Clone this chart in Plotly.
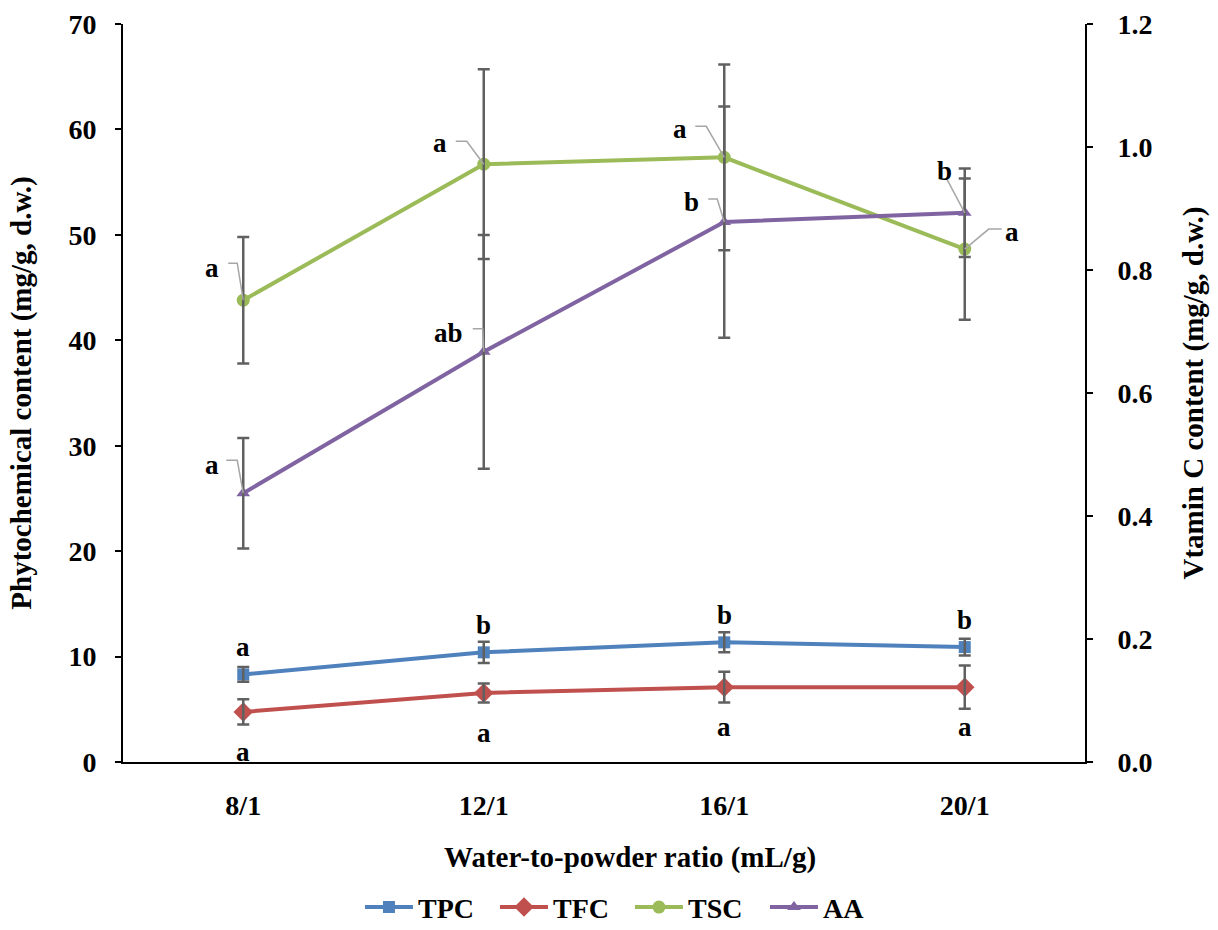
import plotly.graph_objects as go

categories = ["8/1", "12/1", "16/1", "20/1"]

tpc = [8.3, 10.4, 11.35, 10.9]
tpc_err = [0.7, 1.0, 0.95, 0.8]
tfc = [4.75, 6.55, 7.1, 7.1]
tfc_err = [1.2, 0.9, 1.45, 2.05]
tsc = [43.8, 56.7, 57.35, 48.65]
tsc_err = [6.0, 9.0, 8.8, 6.7]
aa = [0.437, 0.667, 0.878, 0.893]
aa_err = [0.09, 0.19, 0.188, 0.072]

tpc_letters = ["a", "b", "b", "b"]
tfc_letters = ["a", "a", "a", "a"]
tsc_letters = ["a", "a", "a", "a"]
aa_letters = ["a", "ab", "b", "b"]

FONT = "Liberation Serif"
C_TPC = "#4F81BD"
C_TFC = "#C0504D"
C_TSC = "#9BBB59"
C_AA = "#8064A2"
C_ERR = "#606060"
C_LEAD = "#A6A6A6"

idx = list(range(len(categories)))

fig = go.Figure()

series = [
    ("TPC", tpc, C_TPC, "square", 12, "y"),
    ("TFC", tfc, C_TFC, "diamond", 15, "y"),
    ("TSC", tsc, C_TSC, "circle", 13, "y"),
    ("AA", aa, C_AA, "triangle-up", 12, "y2"),
]
for name, vals, col, sym, sz, yax in series:
    fig.add_trace(go.Scatter(
        x=idx, y=vals, name=name, mode="lines+markers", yaxis=yax,
        line=dict(color=col, width=4),
        marker=dict(symbol=sym, size=sz, color=col),
    ))

# error bars drawn on top
for vals, errs, yax in [(tpc, tpc_err, "y"), (tfc, tfc_err, "y"), (tsc, tsc_err, "y"), (aa, aa_err, "y2")]:
    fig.add_trace(go.Scatter(
        x=idx, y=vals, mode="markers", yaxis=yax, showlegend=False, hoverinfo="skip",
        marker=dict(size=1, opacity=0),
        error_y=dict(type="data", array=errs, visible=True, color=C_ERR, thickness=2.5, width=6),
    ))

afont = dict(family=FONT, size=27, color="black", weight="bold")

# TPC letters above, TFC letters below
for i in idx:
    fig.add_annotation(x=i, y=tpc[i], yref="y", text=tpc_letters[i], showarrow=False,
                       yshift=27, font=afont)
    fig.add_annotation(x=i, y=tfc[i], yref="y", text=tfc_letters[i], showarrow=False,
                       yshift=-40, font=afont)

# leader-line labels: (label dx, label dy, leader path offsets)
tsc_lead = [
    ((-31, 32), [(-6, 37), (-15, 37)]),
    ((-44, 21), [(-17, 23), (-28, 23)]),
    ((-44, 28), [(-18, 31), (-29, 31)]),
    ((47, 17), [(24, 20), (37, 20)]),
]
aa_lead = [
    ((-31, 28), [(-6, 33), (-17, 33)]),
    ((-35, 19), [(-1, 23), (-11, 23)]),
    ((-33, 20), [(-7, 23), (-16, 23)]),
    ((-20, 42), [(-18, 34)]),
]

for vals, letters, leads, yref in [(tsc, tsc_letters, tsc_lead, "y"), (aa, aa_letters, aa_lead, "y2")]:
    for i in idx:
        (lx, ly), pts = leads[i]
        fig.add_annotation(x=i, y=vals[i], yref=yref, text=letters[i], showarrow=False,
                           xshift=lx, yshift=ly, font=afont)
        path = "M0,0 " + " ".join(f"L{px},{py}" for px, py in pts)
        fig.add_shape(type="path", xref="x", yref=yref, xsizemode="pixel", ysizemode="pixel",
                      xanchor=i, yanchor=vals[i], path=path,
                      line=dict(color=C_LEAD, width=1.5))

tfont = dict(family=FONT, size=28, color="black", weight="bold")
ttfont = dict(family=FONT, size=29, color="black", weight="bold")

# x-axis title (offset to the right as in the reference)
fig.add_annotation(xref="paper", yref="paper", x=0.527, y=-0.130, yanchor="middle",
                   text="Water-to-powder ratio (mL/g)", showarrow=False, font=ttfont)

fig.update_layout(
    template="none",
    width=1218, height=930,
    paper_bgcolor="white", plot_bgcolor="white",
    margin=dict(l=123, r=133, t=24, b=168, autoexpand=False),
    font=dict(family=FONT, size=28, color="black", weight="bold"),
    xaxis=dict(
        range=[-0.5, 3.5], tickmode="array", tickvals=idx, ticktext=categories,
        showgrid=False, zeroline=False, showline=True, linecolor="black", linewidth=2,
        ticks="", tickfont=tfont, ticklabelstandoff=17,
    ),
    yaxis=dict(
        range=[0, 70], dtick=10, showgrid=False, zeroline=False,
        showline=True, linecolor="black", linewidth=2,
        ticks="outside", ticklen=6, tickwidth=2, tickcolor="black",
        tickfont=tfont, ticklabelstandoff=13,
        title=dict(text="Phytochemical content (mg/g, d.w.)", font=ttfont, standoff=28),
    ),
    yaxis2=dict(
        range=[0, 1.2], dtick=0.2, tickformat=".1f", overlaying="y", side="right",
        showgrid=False, zeroline=False,
        showline=True, linecolor="black", linewidth=2,
        ticks="outside", ticklen=6, tickwidth=2, tickcolor="black",
        tickfont=tfont, ticklabelstandoff=19,
        title=dict(text="Vtamin C content (mg/g, d.w.)", font=ttfont, standoff=31),
    ),
    legend=dict(orientation="h", x=0.527, xanchor="center", y=-0.197, yanchor="middle",
                font=tfont, bgcolor="rgba(0,0,0,0)", itemwidth=48,
                entrywidth=72, entrywidthmode="pixels", traceorder="normal"),
    showlegend=True,
)

fig.write_html("out.html", config={"displayModeBar": False},
               post_script="document.body.style.margin='0';")
